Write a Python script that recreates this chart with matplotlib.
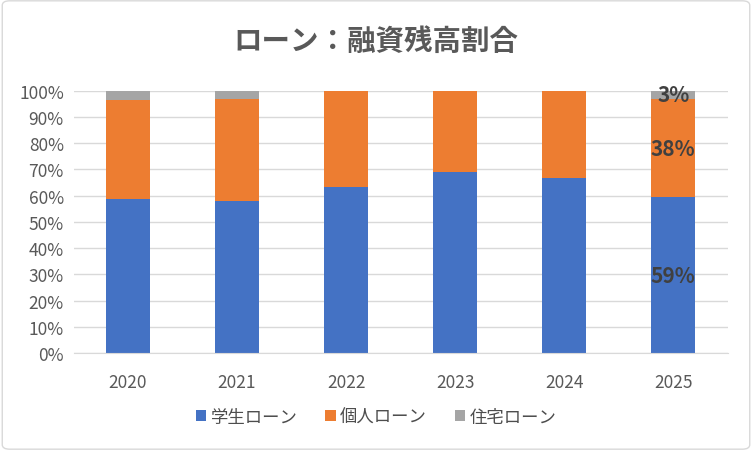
import matplotlib
matplotlib.use('Agg')
import matplotlib.pyplot as plt
from matplotlib.patches import FancyBboxPatch
from matplotlib.ticker import PercentFormatter

plt.rcParams['font.family'] = ['Noto Sans CJK JP', 'DejaVu Sans']

years = ['2020', '2021', '2022', '2023', '2024', '2025']
student = [58.7, 58.0, 63.3, 69.0, 66.7, 59.4]
personal = [37.8, 38.7, 36.4, 31.0, 33.0, 37.4]
housing = [3.5, 3.3, 0.3, 0.0, 0.3, 3.2]
series_names = ['学生ローン', '個人ローン', '住宅ローン']
colors = ['#4472C4', '#ED7D31', '#A5A5A5']
label_text = {5: ['59%', '38%', '3%']}

fig = plt.figure(figsize=(7.52, 4.52), dpi=100)
ax = fig.add_axes([73.5 / 752, 1 - 354.2 / 452, (727.7 - 73.5) / 752, (354.2 - 91.7) / 452])

# frame around the whole chart
fig.patches.append(FancyBboxPatch((0.003, 0.004), 0.994, 0.992, boxstyle='round,pad=0,rounding_size=0.01',
                                  transform=fig.transFigure, fc='white', ec='#D9D9D9', lw=1, zorder=-1))

x = list(range(len(years)))
bottom = [0.0] * len(years)
for vals, name, c in zip([student, personal, housing], series_names, colors):
    ax.bar(x, vals, width=0.4, bottom=bottom, color=c, label=name, zorder=2)
    bottom = [b + v for b, v in zip(bottom, vals)]

# data labels only on the last bar
for i, labs in label_text.items():
    b = 0
    for vals, lab in zip([student, personal, housing], labs):
        ax.text(i, b + vals[i] / 2, lab, ha='center', va='center', fontsize=15,
                fontweight='bold', color='#404040', zorder=3)
        b += vals[i]

ax.set_xlim(-0.5, 5.5)
ax.set_ylim(0, 100)
ax.set_yticks(range(0, 101, 10))
ax.yaxis.set_major_formatter(PercentFormatter(decimals=0))
ax.set_xticks(x)
ax.set_xticklabels(years)
ax.grid(axis='y', color='#D9D9D9', lw=1, zorder=0)
for s in ['top', 'right', 'left']:
    ax.spines[s].set_visible(False)
ax.spines['bottom'].set_color('#D9D9D9')
ax.tick_params(axis='both', length=0, labelsize=12.5, colors='#595959')
ax.tick_params(axis='x', pad=14)
ax.tick_params(axis='y', pad=7)
ax.set_facecolor('none')

fig.text(0.5, 1 - 42 / 452, 'ローン：融資残高割合', ha='center', va='center', fontsize=20.5,
         fontweight='bold', color='#595959')

fig.legend(loc='center', bbox_to_anchor=(0.5, 1 - 418 / 452), ncol=3, frameon=False,
           fontsize=12.5, labelcolor='#4d4d4d', handlelength=0.6, handleheight=0.6,
           handletextpad=0.25, columnspacing=1.6)

fig.savefig('out.png', dpi=100)
